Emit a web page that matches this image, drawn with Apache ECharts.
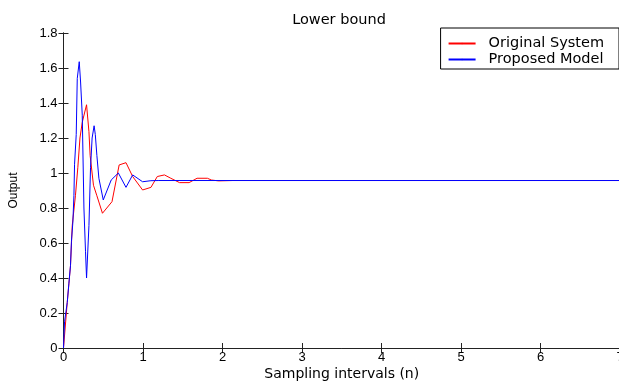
<!DOCTYPE html>
<html>
<head>
<meta charset="utf-8">
<script src="https://cdn.jsdelivr.net/npm/echarts@6/dist/echarts.min.js"></script>
<style>
  html, body { margin: 0; padding: 0; background: #fff; }
  #chart { width: 619px; height: 384px; }
</style>
</head>
<body>
<div id="chart"></div>
<script>
// time (n) and output values
const origTime = [0, 0.047, 0.088, 0.11, 0.15, 0.18, 0.207, 0.236, 0.29, 0.32, 0.335, 0.377, 0.42, 0.49,
  0.61, 0.70, 0.786, 0.87, 0.995, 1.1, 1.18, 1.27, 1.35, 1.46, 1.58, 1.68, 1.81, 1.86, 1.95, 2.13, 7];
const origOutput = [0, 0.26, 0.47, 0.70, 0.87, 1.03, 1.2, 1.29, 1.39, 1.236, 1.10, 0.93, 0.87, 0.77,
  0.836, 1.046, 1.059, 0.98, 0.903, 0.918, 0.98, 0.989, 0.97, 0.945, 0.945, 0.97, 0.97, 0.96, 0.955, 0.957, 0.957];

const modelTime = [0, 0.013, 0.047, 0.068, 0.088, 0.1, 0.118, 0.131, 0.139, 0.16, 0.173, 0.198, 0.215, 0.236,
  0.257, 0.277, 0.29, 0.32, 0.34, 0.36, 0.385, 0.40, 0.42, 0.445, 0.5, 0.6, 0.69, 0.786, 0.87, 0.995, 1.1, 1.2, 7];
const modelOutput = [0, 0.15, 0.26, 0.37, 0.47, 0.61, 0.72, 0.87, 1.05, 1.22, 1.54, 1.636, 1.52, 1.33,
  0.80, 0.55, 0.40, 0.70, 1.03, 1.20, 1.27, 1.22, 1.10, 0.97, 0.846, 0.96, 1.0, 0.918, 0.989, 0.95, 0.956, 0.957, 0.957];

const seriesNames = ['Original System', 'Proposed Model'];

const zip = (xs, ys) => xs.map((x, i) => [x, ys[i]]);

const chart = echarts.init(document.getElementById('chart'));

const tickLabel = { color: '#000', fontSize: 13, fontFamily: 'Liberation Sans, Arial, sans-serif' };
const wideFont = 'DejaVu Sans, sans-serif';
const axisLine = { show: true, lineStyle: { color: '#222', width: 1 } };
const tickIn = { show: true, inside: true, length: 5, lineStyle: { color: '#222' } };

chart.setOption({
  animation: false,
  title: {
    text: 'Lower bound',
    left: 334,
    top: 8,
    textAlign: 'center',
    textStyle: { fontSize: 14.5, fontWeight: 'normal', color: '#000', fontFamily: wideFont }
  },
  grid: { left: 63.5, right: -1, top: 33, bottom: 36, outerBoundsMode: 'none', containLabel: false },
  legend: {
    data: seriesNames,
    orient: 'vertical',
    right: 0,
    top: 28,
    itemWidth: 27,
    itemHeight: 2,
    itemGap: 1,
    padding: [8, 15, 2, 7],
    backgroundColor: '#fff',
    borderColor: '#000',
    borderWidth: 1,
    borderRadius: 0,
    textStyle: { fontSize: 14.5, lineHeight: 14, color: '#000', fontFamily: wideFont, padding: [0, 0, 0, 8] }
  },
  xAxis: [
    {
      type: 'value', min: 0, max: 7, interval: 1, position: 'bottom',
      name: 'Sampling intervals (n)', nameLocation: 'middle', nameGap: 19, nameMoveOverlap: false,
      nameTextStyle: { fontSize: 14, color: '#000', fontFamily: wideFont },
      axisLine, axisTick: tickIn, splitLine: { show: false },
      axisLabel: Object.assign({ margin: 3, showMinLabel: true, showMaxLabel: true, hideOverlap: false }, tickLabel)
    },
    {
      type: 'value', min: 0, max: 7, interval: 1, position: 'top',
      axisLine, axisTick: tickIn, splitLine: { show: false }, axisLabel: { show: false }
    }
  ],
  yAxis: [
    {
      type: 'value', min: 0, max: 1.8, interval: 0.2, position: 'left',
      name: 'Output', nameLocation: 'middle', nameGap: 44, nameRotate: 90, nameMoveOverlap: false,
      nameTextStyle: { fontSize: 12, color: '#000', fontFamily: 'Liberation Sans Narrow, Arial, sans-serif' },
      axisLine, axisTick: tickIn, splitLine: { show: false },
      axisLabel: Object.assign({ margin: 6, formatter: v => String(+v.toFixed(1)) }, tickLabel)
    },
    {
      type: 'value', min: 0, max: 1.8, interval: 0.2, position: 'right',
      axisLine, axisTick: tickIn, splitLine: { show: false }, axisLabel: { show: false }
    }
  ],
  series: [
    {
      name: seriesNames[0], type: 'line', symbol: 'none',
      lineStyle: { color: '#ff0000', width: 1 }, itemStyle: { color: '#ff0000' },
      data: zip(origTime, origOutput)
    },
    {
      name: seriesNames[1], type: 'line', symbol: 'none',
      lineStyle: { color: '#0000ff', width: 1 }, itemStyle: { color: '#0000ff' },
      data: zip(modelTime, modelOutput)
    }
  ]
});
</script>
</body>
</html>
